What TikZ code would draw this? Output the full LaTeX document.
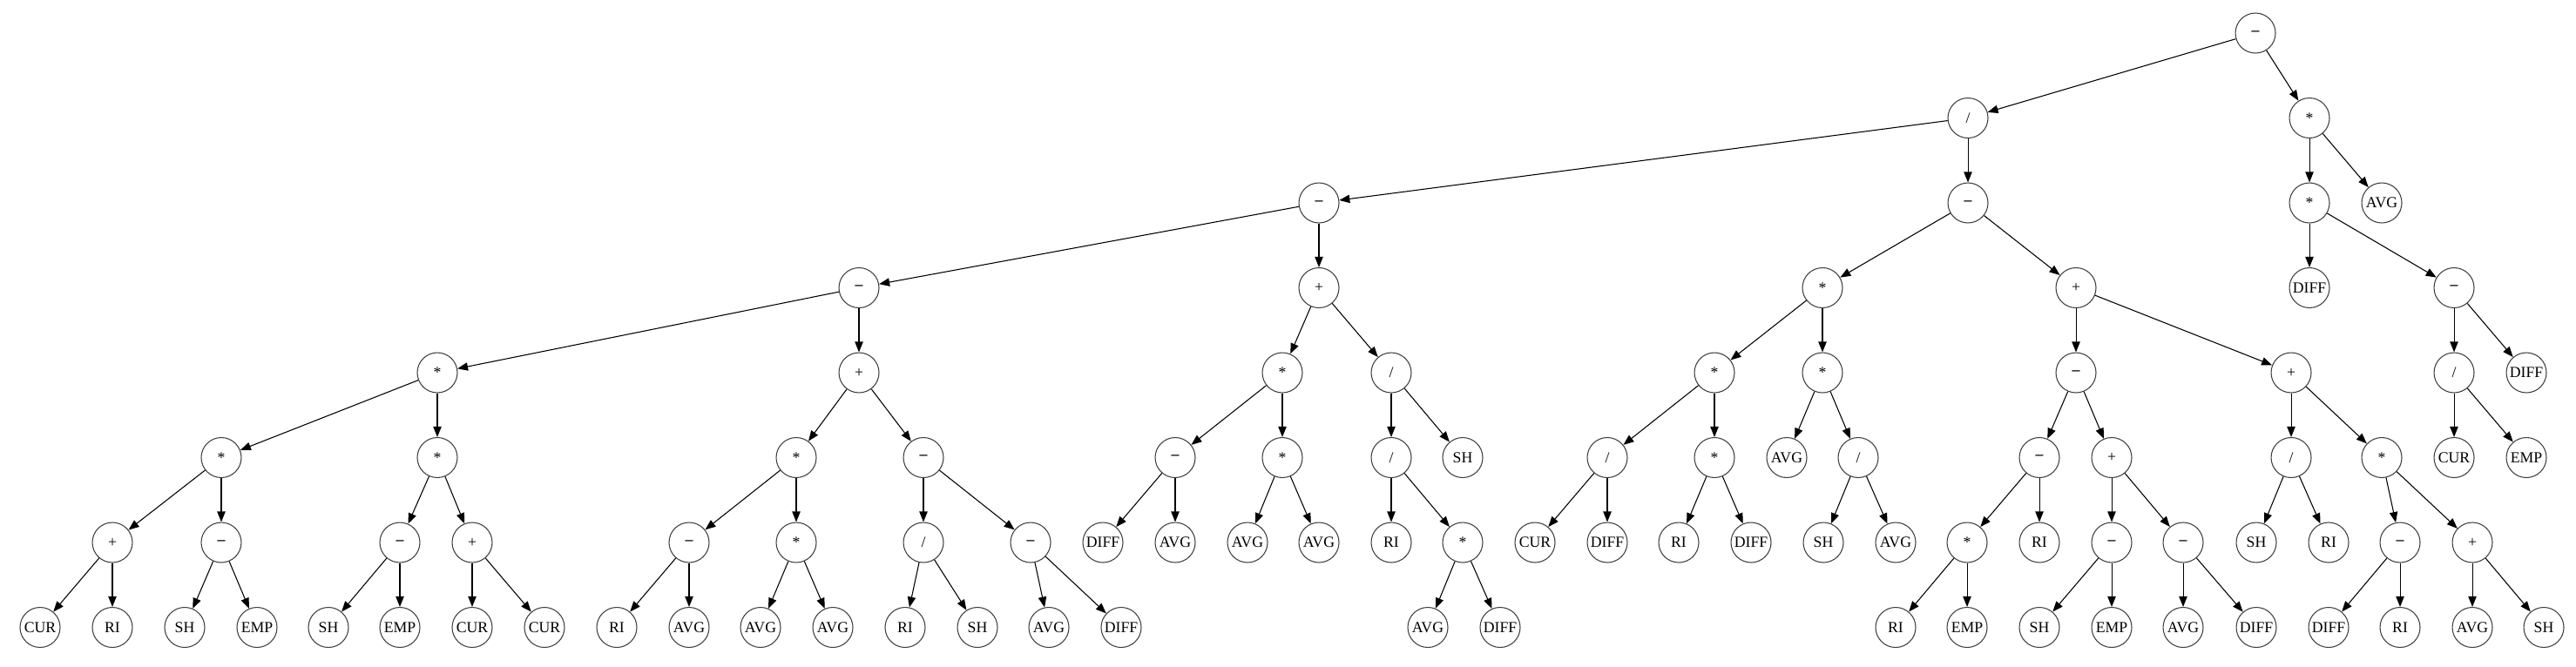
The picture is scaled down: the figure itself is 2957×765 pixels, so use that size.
\documentclass[tikz,border=0pt]{standalone}
\usepackage{fontspec}
\setmainfont{Liberation Serif}
\usetikzlibrary{arrows.meta}
\begin{document}
\begin{tikzpicture}[x=0.75pt, y=-0.75pt, >={Triangle[length=9pt, width=7pt]},
  main/.style = {draw=black!75, circle, minimum size=34.5pt, inner sep=0pt, line width=0.8pt,
    font=\fontsize{13.3}{15}\selectfont},
  every path/.style = {line width=0.8pt}]
\useasboundingbox (0,0) rectangle (2957,765);
% level 0 and 1
\node[main] (1) at (2589,38) {\textbf{--}};
\node[main] (2) at (2259,135.5) {/};
\node[main] (3) at (2651,135.5) {*};
% level 2
\node[main] (4) at (1514,233) {\textbf{--}};
\node[main] (5) at (2259,233) {\textbf{--}};
\node[main] (6) at (2651,233) {*};
\node[main] (7) at (2734,233) {AVG};
% level 3
\node[main] (8) at (986,330.5) {\textbf{--}};
\node[main] (9) at (1514,330.5) {+};
\node[main] (10) at (2092,330.5) {*};
\node[main] (11) at (2383,330.5) {+};
\node[main] (12) at (2651,330.5) {DIFF};
\node[main] (13) at (2817,330.5) {\textbf{--}};
% level 4
\node[main] (14) at (502,428) {*};
\node[main] (15) at (986,428) {+};
\node[main] (16) at (1472,428) {*};
\node[main] (17) at (1597,428) {/};
\node[main] (18) at (1968,428) {*};
\node[main] (19) at (2092,428) {*};
\node[main] (20) at (2383,428) {\textbf{--}};
\node[main] (21) at (2630,428) {+};
\node[main] (22) at (2817,428) {/};
\node[main] (23) at (2900,428) {DIFF};
% level 5
\node[main] (24) at (254,525.5) {*};
\node[main] (25) at (502,525.5) {*};
\node[main] (26) at (914,525.5) {*};
\node[main] (27) at (1060,525.5) {\textbf{--}};
\node[main] (28) at (1349,525.5) {\textbf{--}};
\node[main] (29) at (1472,525.5) {*};
\node[main] (30) at (1597,525.5) {/};
\node[main] (31) at (1679,525.5) {SH};
\node[main] (32) at (1845,525.5) {/};
\node[main] (33) at (1968,525.5) {*};
\node[main] (34) at (2051,525.5) {AVG};
\node[main] (35) at (2133,525.5) {/};
\node[main] (36) at (2341,525.5) {\textbf{--}};
\node[main] (37) at (2424,525.5) {+};
\node[main] (38) at (2630,525.5) {/};
\node[main] (39) at (2734,525.5) {*};
\node[main] (40) at (2817,525.5) {CUR};
\node[main] (41) at (2900,525.5) {EMP};
% level 6
\node[main] (42) at (129,623) {+};
\node[main] (43) at (254,623) {\textbf{--}};
\node[main] (44) at (459,623) {\textbf{--}};
\node[main] (45) at (542,623) {+};
\node[main] (46) at (791,623) {\textbf{--}};
\node[main] (47) at (914,623) {*};
\node[main] (48) at (1060,623) {/};
\node[main] (49) at (1183,623) {\textbf{--}};
\node[main] (50) at (1266,623) {DIFF};
\node[main] (51) at (1349,623) {AVG};
\node[main] (52) at (1432,623) {AVG};
\node[main] (53) at (1514,623) {AVG};
\node[main] (54) at (1597,623) {RI};
\node[main] (55) at (1679,623) {*};
\node[main] (56) at (1762,623) {CUR};
\node[main] (57) at (1845,623) {DIFF};
\node[main] (58) at (1927,623) {RI};
\node[main] (59) at (2010,623) {DIFF};
\node[main] (60) at (2093,623) {SH};
\node[main] (61) at (2176,623) {AVG};
\node[main] (62) at (2258,623) {*};
\node[main] (63) at (2341,623) {RI};
\node[main] (64) at (2424,623) {\textbf{--}};
\node[main] (65) at (2506,623) {\textbf{--}};
\node[main] (66) at (2590,623) {SH};
\node[main] (67) at (2673,623) {RI};
\node[main] (68) at (2755,623) {\textbf{--}};
\node[main] (69) at (2838,623) {+};
% level 7
\node[main] (70) at (46,720.5) {CUR};
\node[main] (71) at (129,720.5) {RI};
\node[main] (72) at (212,720.5) {SH};
\node[main] (73) at (295,720.5) {EMP};
\node[main] (74) at (377,720.5) {SH};
\node[main] (75) at (459,720.5) {EMP};
\node[main] (76) at (542,720.5) {CUR};
\node[main] (77) at (625,720.5) {CUR};
\node[main] (78) at (708,720.5) {RI};
\node[main] (79) at (791,720.5) {AVG};
\node[main] (80) at (873,720.5) {AVG};
\node[main] (81) at (956,720.5) {AVG};
\node[main] (82) at (1039,720.5) {RI};
\node[main] (83) at (1122,720.5) {SH};
\node[main] (84) at (1204,720.5) {AVG};
\node[main] (85) at (1287,720.5) {DIFF};
\node[main] (86) at (1639,720.5) {AVG};
\node[main] (87) at (1722,720.5) {DIFF};
\node[main] (88) at (2176,720.5) {RI};
\node[main] (89) at (2258,720.5) {EMP};
\node[main] (90) at (2341,720.5) {SH};
\node[main] (91) at (2424,720.5) {EMP};
\node[main] (92) at (2506,720.5) {AVG};
\node[main] (93) at (2590,720.5) {DIFF};
\node[main] (94) at (2673,720.5) {DIFF};
\node[main] (95) at (2755,720.5) {RI};
\node[main] (96) at (2838,720.5) {AVG};
\node[main] (97) at (2920,720.5) {SH};

\draw[->] (1) -- (2); \draw[->] (1) -- (3);
\draw[->] (2) -- (4); \draw[->] (2) -- (5);
\draw[->] (3) -- (6); \draw[->] (3) -- (7);
\draw[->] (4) -- (8); \draw[->] (4) -- (9);
\draw[->] (5) -- (10); \draw[->] (5) -- (11);
\draw[->] (6) -- (12); \draw[->] (6) -- (13);

\draw[->] (8) -- (14); \draw[->] (8) -- (15);
\draw[->] (9) -- (16); \draw[->] (9) -- (17);
\draw[->] (10) -- (18); \draw[->] (10) -- (19);
\draw[->] (11) -- (20); \draw[->] (11) -- (21);
\draw[->] (13) -- (22); \draw[->] (13) -- (23);

\draw[->] (14) -- (24); \draw[->] (14) -- (25);
\draw[->] (15) -- (26); \draw[->] (15) -- (27);
\draw[->] (16) -- (28); \draw[->] (16) -- (29);
\draw[->] (17) -- (30); \draw[->] (17) -- (31);
\draw[->] (18) -- (32); \draw[->] (18) -- (33);
\draw[->] (19) -- (34); \draw[->] (19) -- (35);
\draw[->] (20) -- (36); \draw[->] (20) -- (37);
\draw[->] (21) -- (38); \draw[->] (21) -- (39);
\draw[->] (22) -- (40); \draw[->] (22) -- (41);

\draw[->] (24) -- (42); \draw[->] (24) -- (43);
\draw[->] (25) -- (44); \draw[->] (25) -- (45);
\draw[->] (26) -- (46); \draw[->] (26) -- (47);
\draw[->] (27) -- (48); \draw[->] (27) -- (49);
\draw[->] (28) -- (50); \draw[->] (28) -- (51);
\draw[->] (29) -- (52); \draw[->] (29) -- (53);
\draw[->] (30) -- (54); \draw[->] (30) -- (55);
\draw[->] (32) -- (56); \draw[->] (32) -- (57);
\draw[->] (33) -- (58); \draw[->] (33) -- (59);
\draw[->] (35) -- (60); \draw[->] (35) -- (61);
\draw[->] (36) -- (62); \draw[->] (36) -- (63);
\draw[->] (37) -- (64); \draw[->] (37) -- (65);
\draw[->] (38) -- (66); \draw[->] (38) -- (67);
\draw[->] (39) -- (68); \draw[->] (39) -- (69);

\draw[->] (42) -- (70); \draw[->] (42) -- (71);
\draw[->] (43) -- (72); \draw[->] (43) -- (73);
\draw[->] (44) -- (74); \draw[->] (44) -- (75);
\draw[->] (45) -- (76); \draw[->] (45) -- (77);
\draw[->] (46) -- (78); \draw[->] (46) -- (79);
\draw[->] (47) -- (80); \draw[->] (47) -- (81);
\draw[->] (48) -- (82); \draw[->] (48) -- (83);
\draw[->] (49) -- (84); \draw[->] (49) -- (85);
\draw[->] (55) -- (86); \draw[->] (55) -- (87);
\draw[->] (62) -- (88); \draw[->] (62) -- (89);
\draw[->] (64) -- (90); \draw[->] (64) -- (91);
\draw[->] (65) -- (92); \draw[->] (65) -- (93);
\draw[->] (68) -- (94); \draw[->] (68) -- (95);
\draw[->] (69) -- (96); \draw[->] (69) -- (97);
\end{tikzpicture}
\end{document}
